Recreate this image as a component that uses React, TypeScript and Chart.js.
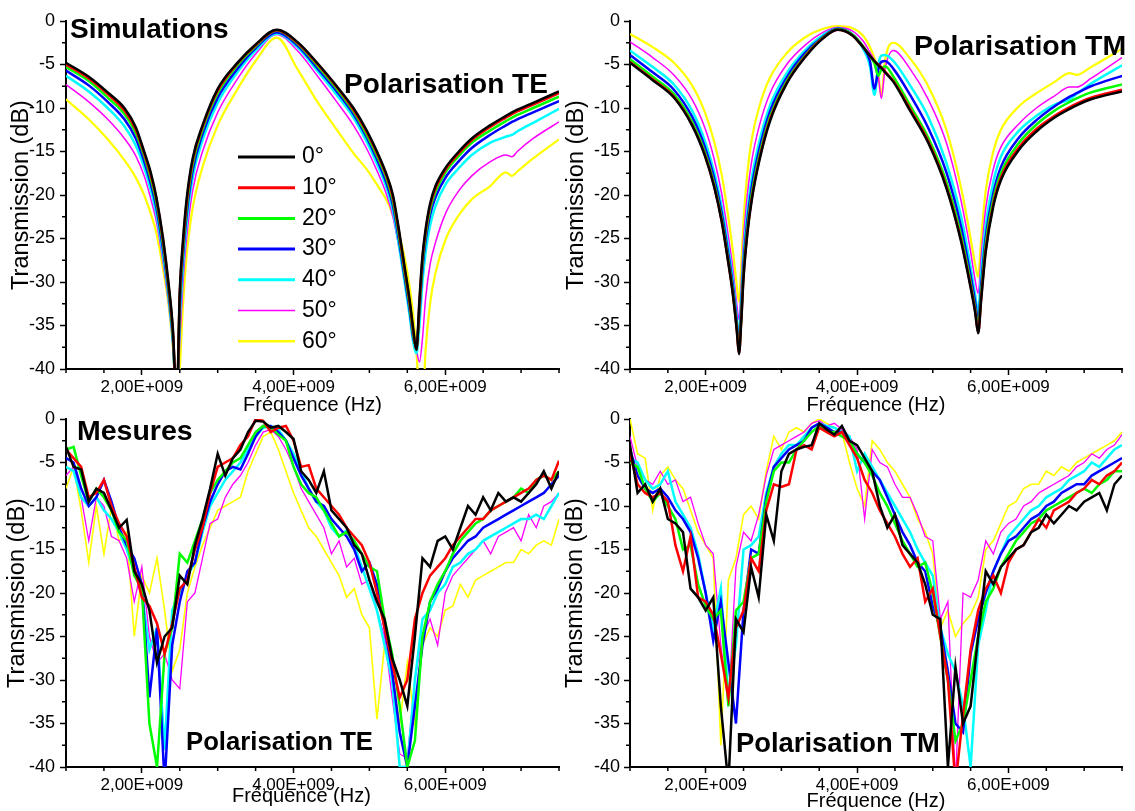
import React, { useEffect, useRef } from 'react';
import { Chart, registerables } from 'chart.js';

Chart.register(...registerables);

const FONT = "'Liberation Sans', Arial, Helvetica, sans-serif";

const ANGLE_LABELS = ['0°', '10°', '20°', '30°', '40°', '50°', '60°'];
const SERIES_COLORS = ['#000000', '#ff0000', '#00ff00', '#0000ff', '#00ffff', '#ff00ff', '#ffff00'];
const SIM_WIDTHS = [2.5, 2.5, 2.5, 2.5, 2.5, 1.5, 2.2];
const MEAS_WIDTHS = [2.5, 2.5, 2.5, 2.5, 2.5, 1.3, 1.6];
const LEGEND_WIDTHS = [3, 3, 3, 3, 3, 1.5, 2.5];

const X_MIN = 1.0;
const X_MAX = 7.5;
const Y_MIN = -40;
const Y_MAX = 0;

// ---------- Simulations, polarisation TE (frequency in GHz, transmission in dB)
const SIM_TE_FREQ = [
  1.0, 1.3, 1.55, 1.77, 1.92, 2.03, 2.12, 2.19, 2.28, 2.35,
  2.41, 2.46, 2.50, 2.54, 2.59, 2.67, 2.80, 3.00, 3.25, 3.50,
  3.78, 4.05, 4.33, 4.57, 4.79, 4.96, 5.10, 5.22, 5.31, 5.39,
  5.46, 5.53, 5.58, 5.62, 5.66, 5.70, 5.74, 5.80, 5.87, 6.01,
  6.18, 6.35, 6.59, 6.80, 6.88, 6.95, 7.16, 7.50,
];
const SIM_TE_0 = [
  -4.8, -6.4, -8.2, -10.0, -12.2, -15.0, -17.5, -20.2, -25.0, -30.0,
  -35.5, -44, -31, -25.5, -20.5, -15.8, -12.0, -7.8, -4.9, -2.7,
  -1.0, -2.4, -5.0, -7.5, -10.0, -12.5, -15.0, -17.5, -20.0, -24,
  -28, -32, -35.5, -37.8, -32, -27, -24, -21, -19, -16.8,
  -15.0, -13.5, -12.0, -10.9, -10.5, -10.2, -9.4, -8.1,
];
const SIM_TE_10 = [
  -5.0, -6.6, -8.4, -10.3, -12.5, -15.2, -17.8, -20.4, -25.3, -30.3,
  -35.8, -44, -31.5, -26, -21, -16.1, -12.2, -8.0, -5.0, -2.8,
  -1.05, -2.5, -5.1, -7.6, -10.2, -12.7, -15.2, -17.7, -20.3, -24.3,
  -28.3, -32.3, -35.8, -37.8, -32.5, -27.3, -24.3, -21.3, -19.3, -17.0,
  -15.2, -13.7, -12.2, -11.1, -10.7, -10.4, -9.6, -8.3,
];
const SIM_TE_20 = [
  -5.3, -6.9, -8.8, -10.7, -12.9, -15.5, -18.2, -20.8, -25.7, -30.6,
  -36.2, -44, -32, -26.5, -21.5, -16.5, -12.5, -8.3, -5.2, -2.9,
  -1.1, -2.6, -5.3, -7.8, -10.4, -13.0, -15.5, -18.0, -20.7, -24.7,
  -28.7, -32.7, -36.2, -37.6, -33, -27.8, -24.7, -21.7, -19.7, -17.3,
  -15.5, -14.0, -12.6, -11.5, -11.1, -10.8, -10.0, -8.7,
];
const SIM_TE_30 = [
  -5.7, -7.4, -9.3, -11.3, -13.5, -16.1, -18.8, -21.4, -26.3, -31.0,
  -36.5, -44, -33, -27.3, -22.3, -17.2, -13.0, -8.8, -5.6, -3.1,
  -1.3, -2.8, -5.6, -8.1, -10.7, -13.3, -15.9, -18.5, -21.2, -25.2,
  -29.2, -33.2, -36.5, -37.2, -33.5, -28.5, -25.3, -22.3, -20.3, -17.9,
  -16.1, -14.6, -13.1, -12.0, -11.6, -11.3, -10.5, -9.2,
];
const SIM_TE_40 = [
  -6.3, -8.1, -10.0, -12.1, -14.3, -16.8, -19.5, -22.1, -27.0, -31.6,
  -37, -44, -34.5, -28.5, -23.3, -18, -13.7, -9.4, -6.0, -3.4,
  -1.45, -3.0, -5.9, -8.5, -11.1, -13.8, -16.4, -19, -21.8, -25.8,
  -29.7, -33.8, -37, -38.2, -35, -30, -26.7, -23.5, -21.3, -18.7,
  -16.9, -15.4, -14.0, -13.3, -13.1, -12.7, -11.7, -10.1,
];
const SIM_TE_50 = [
  -7.3, -9.3, -11.3, -13.5, -15.5, -17.8, -20.5, -23, -27.8, -32.3,
  -37.5, -44, -37, -30.5, -25, -19.5, -15, -10.5, -6.8, -3.8,
  -1.55, -3.4, -6.5, -9.3, -12.0, -14.6, -17.2, -19.8, -22.5, -26,
  -29.5, -33, -35.8, -37.8, -39.2, -36.5, -32, -28, -25.5, -22,
  -19.5, -17.8, -16.2, -15.4, -15.6, -15.0, -13.5, -11.6,
];
const SIM_TE_60 = [
  -9.0, -11.3, -13.6, -16.0, -18.0, -20.0, -22.2, -24.3, -28.5, -32.5,
  -37.5, -44, -40, -33, -27, -21.5, -16.8, -12.0, -8.0, -4.6,
  -1.9, -5.5, -9.5, -12.5, -15.2, -17.0, -18.8, -20.5, -22.3, -24.5,
  -27, -30.5, -34, -38, -43, -45, -38, -32.5, -29, -25,
  -22.3, -20.5, -19.0, -17.4, -17.8, -17.3, -15.8, -13.6,
];

// ---------- Simulations, polarisation TM
const SIM_TM_FREQ = [
  1.0, 1.3, 1.58, 1.82, 1.99, 2.11, 2.21, 2.29, 2.36, 2.41,
  2.44, 2.47, 2.50, 2.55, 2.61, 2.71, 2.85, 3.07, 3.31, 3.55,
  3.74, 3.93, 4.08, 4.17, 4.23, 4.28, 4.32, 4.37, 4.48, 4.70,
  4.94, 5.18, 5.37, 5.49, 5.56, 5.60, 5.64, 5.70, 5.80, 5.90,
  6.14, 6.37, 6.61, 6.81, 6.90, 7.09, 7.50,
];
const SIM_TM_0 = [
  -4.8, -6.8, -8.8, -12.0, -15.5, -19.0, -23.0, -27.3, -31.5, -35.5,
  -38.3, -34.5, -29.5, -24.5, -20.5, -16.0, -11.5, -7.2, -4.2, -2.0,
  -1.0, -1.6, -3.0, -4.0, -4.6, -5.1, -5.4, -5.9, -7.0, -10.3,
  -14.0, -19.2, -25.2, -30.2, -33.5, -35.9, -32, -26.5, -21.3, -18.3,
  -14.8, -12.7, -11.1, -10.1, -9.7, -9.0, -8.1,
];
const SIM_TM_10 = [
  -4.7, -6.7, -8.7, -11.9, -15.4, -18.9, -22.9, -27.2, -31.4, -35.4,
  -38.2, -34.3, -29.3, -24.3, -20.3, -15.8, -11.3, -7.1, -4.1, -1.95,
  -1.0, -1.6, -3.0, -4.0, -4.6, -5.0, -5.3, -5.8, -6.9, -10.1,
  -13.8, -19.0, -25.0, -30.0, -33.3, -35.8, -31.8, -26.2, -21.0, -18.0,
  -14.5, -12.4, -10.9, -9.9, -9.5, -8.8, -7.9,
];
const SIM_TM_20 = [
  -4.4, -6.4, -8.4, -11.6, -15.1, -18.6, -22.6, -26.9, -31.1, -35.1,
  -37.8, -33.8, -28.8, -23.8, -19.8, -15.4, -11.0, -6.9, -4.0, -1.9,
  -0.95, -1.5, -2.9, -4.0, -4.9, -6.3, -5.6, -5.2, -6.4, -9.7,
  -13.4, -18.5, -24.5, -29.6, -33.0, -35.2, -31.2, -25.6, -20.5, -17.5,
  -14.0, -11.9, -10.3, -9.3, -8.9, -8.2, -7.3,
];
const SIM_TM_30 = [
  -3.9, -5.9, -7.9, -11.0, -14.5, -18.0, -22.0, -26.3, -30.5, -34.6,
  -37.2, -33, -28, -23, -19, -14.7, -10.4, -6.5, -3.7, -1.8,
  -0.9, -1.5, -3.0, -4.6, -7.8, -5.6, -4.7, -4.6, -5.5, -8.5,
  -12.3, -17.4, -23.5, -28.8, -32.3, -34.5, -30.3, -24.8, -19.8, -16.8,
  -13.4, -11.4, -9.8, -8.7, -8.3, -7.5, -6.3,
];
const SIM_TM_40 = [
  -3.4, -5.3, -7.3, -10.3, -13.8, -17.3, -21.3, -25.6, -29.8, -34.0,
  -36.3, -32, -27, -22, -18, -13.8, -9.7, -6.0, -3.4, -1.6,
  -0.85, -1.5, -3.2, -5.2, -8.5, -5.0, -4.0, -3.9, -4.6, -7.4,
  -11.0, -16.3, -22.3, -27.8, -31.5, -33.5, -29, -23.5, -18.5, -15.6,
  -12.6, -10.9, -9.6, -9.0, -8.4, -7.2, -5.1,
];
const SIM_TM_50 = [
  -2.4, -4.2, -6.2, -9.0, -12.3, -15.8, -19.8, -24.2, -28.5, -32.5,
  -34.3, -30, -25, -20, -16, -12, -8.3, -5.0, -2.8, -1.3,
  -0.75, -1.1, -2.3, -3.6, -4.6, -6.3, -8.9, -5.5, -3.4, -5.5,
  -9.0, -14.0, -20.5, -26.0, -29.8, -31.3, -27, -21.5, -17.0, -14.5,
  -11.8, -10.0, -8.6, -7.6, -7.6, -6.6, -4.2,
];
const SIM_TM_60 = [
  -1.5, -3.0, -4.8, -7.4, -10.5, -13.8, -17.6, -22.0, -26.5, -30.3,
  -32.3, -28, -23, -17.5, -13.5, -9.8, -6.5, -3.7, -1.9, -0.9,
  -0.6, -0.8, -1.7, -3.0, -4.3, -6.0, -8.7, -4.5, -2.5, -4.3,
  -7.5, -12.5, -19.0, -24.5, -28.0, -29.4, -25, -19.5, -15.0, -12.5,
  -9.8, -8.3, -7.0, -6.0, -6.2, -5.3, -3.2,
];

// ---------- Measurements (shared frequency grid, GHz)
const MEAS_FREQ = [
  1.0, 1.1, 1.2, 1.3, 1.4, 1.5, 1.6, 1.7, 1.8, 1.9,
  2.0, 2.1, 2.2, 2.3, 2.4, 2.5, 2.6, 2.7, 2.8, 2.9,
  3.0, 3.1, 3.2, 3.3, 3.4, 3.5, 3.6, 3.7, 3.8, 3.9,
  4.0, 4.1, 4.2, 4.3, 4.4, 4.5, 4.6, 4.7, 4.8, 4.9,
  5.0, 5.1, 5.2, 5.3, 5.4, 5.5, 5.6, 5.7, 5.8, 5.9,
  6.0, 6.1, 6.2, 6.3, 6.4, 6.5, 6.6, 6.7, 6.8, 6.9,
  7.0, 7.1, 7.2, 7.3, 7.4, 7.5,
];

// Measurements, polarisation TE
const MEAS_TE_0 = [
  -3.2, -5.5, -5.8, -9.5, -8.0, -8.5, -10.5, -12.5, -11.6, -17.5,
  -19, -22, -28, -25, -24, -18, -19, -14.5, -11.5, -8,
  -4.0, -6.5, -4.5, -3.5, -1.5, -0.2, -0.3, -1.0, -0.8, -1.5,
  -2.3, -6.0, -7.0, -8.5, -6.0, -10.5, -11.5, -12.5, -14.5, -15.5,
  -18.5, -21, -23, -27.5, -30, -33, -25, -16, -17, -14,
  -13.5, -15, -12.5, -10, -11, -9, -10.5, -8.5, -9.5, -9,
  -9.5, -8.5, -7.5, -6.0, -8.0, -6.0,
];
const MEAS_TE_10 = [
  -3.5, -4.5, -5.5, -9.0, -8.5, -7.0, -10.0, -12.0, -13.5, -17.0,
  -20.5, -21.5, -23.5, -27, -23.5, -19.5, -18.5, -15, -12.5, -8.5,
  -5.5, -5.0, -4.5, -3.0, -2.0, 0.0, -0.2, -1.5, -1.0, -0.8,
  -2.5, -5.5, -5.3, -8.0, -9.0, -10.0, -11.0, -12.5, -13.5, -14.5,
  -16.5, -20, -24, -28, -32, -30, -23, -20, -18, -17,
  -16, -14.5, -13.5, -12.5, -11.5, -11.5, -10.5, -10.0, -9.5, -9.0,
  -8.5, -8.0, -7.0, -6.5, -7.0, -4.8,
];
const MEAS_TE_20 = [
  -3.5, -3.2, -6.5, -9.5, -8.0, -9.0, -10.5, -13.0, -14.0, -18.0,
  -19.5, -35, -40, -27, -24, -15.5, -16.5, -14, -11.5, -8.5,
  -7.0, -6.0, -5.0, -4.5, -3.0, -1.5, -0.8, -1.0, -1.8, -2.5,
  -5.5, -7.5, -8.5, -9.0, -10.5, -12, -13.5, -13.0, -14, -15.5,
  -17, -17.5, -23, -27, -33, -40, -37, -25, -21, -19,
  -17.5, -15.5, -14, -13, -12, -11.5, -10.5, -10, -9.5, -9,
  -8, -8.5, -7.0, -6.5, -7.0, -6.0,
];
const MEAS_TE_30 = [
  -4.5, -5.0, -8.0, -10.0, -9.0, -7.0, -9.5, -12.5, -14.5, -16.0,
  -19.0, -32, -24, -42, -26, -21, -17.5, -16.5, -12.5, -9.5,
  -7.5, -6.0, -5.5, -5.8, -4.0, -2.0, -0.8, -0.8, -1.5, -2.5,
  -4.5, -6.5, -8.0, -9.5, -10.0, -11.5, -12.5, -13.5, -15.0, -17.5,
  -16.5, -19, -24, -29, -36, -40, -33, -26, -21, -19.5,
  -17.5, -16, -15, -14, -13.5, -12.5, -12.0, -11.5, -11, -10.5,
  -10, -9.5, -9.0, -8.5, -7.5, -6.5,
];
const MEAS_TE_40 = [
  -5.5, -6.0, -9.0, -10.0, -9.0, -10.5, -11.5, -13.0, -15.0, -17.5,
  -20.0, -26.5, -24.0, -38, -22, -20, -18, -16.5, -13, -10,
  -8.5, -7.0, -6.0, -5.0, -3.5, -2.0, -1.0, -0.8, -1.2, -2.5,
  -4.0, -6.0, -8.0, -9.5, -10.5, -12.5, -13.5, -12.8, -14.5, -17.0,
  -19.5, -22, -26, -30, -40, -40, -30, -23, -22, -20,
  -19, -17, -16.5, -15.5, -15, -14, -13.5, -13, -12.5, -12,
  -11.5, -11.5, -11, -11.5, -10, -8.5,
];
const MEAS_TE_50 = [
  -6.5, -5.5, -9.0, -14.0, -9.0, -10.0, -13.5, -14.0, -16.0, -21.0,
  -17.0, -25, -28, -27, -30, -31, -21, -20, -16, -12,
  -11.5, -9.0, -7.5, -6.5, -5.0, -3.0, -1.5, -1.2, -2.0, -3.5,
  -5.5, -8.0, -9.5, -11.0, -12.5, -15.5, -14.0, -17.0, -16.0, -19.0,
  -18.5, -22, -25, -32, -38.5, -39, -30, -25, -23, -26,
  -20, -18, -17, -16, -15, -14, -15.5, -13.5, -13, -12.5,
  -14, -11, -12.5, -10, -9.5, -8.5,
];
const MEAS_TE_60 = [
  -8.0, -5.5, -10.5, -16.5, -10.0, -15.5, -10.0, -14.0, -13.0, -25.0,
  -18.0, -20.0, -16.0, -22.0, -29.0, -26.5, -20.0, -17.0, -14.5, -12.5,
  -10.5, -10.0, -9.5, -9.0, -6.0, -4.0, -2.0, -1.5, -3.5, -6.0,
  -8.5, -10.5, -12.5, -13.5, -15.0, -16.5, -18.0, -20.5, -19.5, -22.5,
  -24.0, -34.5, -26.0, -29.0, -35.0, -28.0, -35.0, -26.0, -24.0, -25.0,
  -22.0, -21.5, -19.0, -20.5, -18.5, -18.0, -17.5, -17.0, -16.5, -16.5,
  -15.0, -15.5, -14.5, -14.0, -14.5, -11.5,
];

// Measurements, polarisation TM
const MEAS_TM_0 = [
  -3.0, -8.5, -7.5, -9.5, -8.0, -11.5, -12.0, -13.0, -19.5, -20.5,
  -22, -20.5, -33, -42, -23, -24.5, -17, -20.5, -11, -14,
  -6, -4.0, -3.5, -3.2, -3.0, -0.5, -1.2, -1.8, -0.8, -2.5,
  -3.0, -4.5, -6.0, -10.0, -12.5, -11.0, -14.5, -15.5, -16.5, -19.0,
  -22.5, -23.0, -40, -28.5, -35, -33, -25, -17.5, -19.0, -17.0,
  -16.0, -15.0, -14.5, -13.0, -12.5, -11.0, -12.0, -11.0, -10.0, -10.5,
  -9.5, -9.0, -8.5, -10.5, -7.5, -6.5,
];
const MEAS_TM_10 = [
  -4.0, -7.5, -8.5, -9.0, -8.5, -9.5, -14.5, -17.5, -13.5, -20.5,
  -21, -22.5, -27, -32, -24, -22, -16, -17.5, -10.5, -7.5,
  -7.8, -7.5, -3.5, -3.0, -3.5, -1.0, -1.5, -2.0, -1.5, -3.0,
  -4.5, -7.0, -8.5, -10.5, -12.0, -13.5, -15.5, -17.0, -16.0, -21,
  -19.5, -25, -30, -42, -34, -26.5, -22, -19.5, -18.0, -20.0,
  -16.5, -15.0, -14.5, -13.0, -11.5, -12.5, -10.5, -10.0, -9.5, -8.5,
  -8.0, -7.0, -7.5, -6.5, -6.0, -5.0,
];
const MEAS_TM_20 = [
  -5.0, -5.5, -8.0, -9.5, -8.5, -10, -11.5, -15.0, -14.5, -19,
  -21.5, -23, -22, -33, -22, -21, -16, -15.5, -9.5, -6.0,
  -5.0, -5.0, -3.5, -2.5, -1.5, -0.8, -1.5, -1.5, -2.0, -2.5,
  -4.0, -5.0, -6.5, -8.5, -10.0, -12.0, -14.0, -15.5, -17.0, -16.5,
  -20, -25, -30, -37, -35, -30, -25, -21, -19.5, -17,
  -15.5, -14, -13, -12, -11.5, -10.5, -10, -9.5, -9.0, -8.5,
  -8.0, -8.5, -7.5, -7.0, -6.0, -6.0,
];
const MEAS_TM_30 = [
  -3.5, -6.5, -8.0, -8.5, -8.0, -9.0, -10.5, -11.5, -13.0, -16,
  -20, -25.5, -21, -28, -35, -22, -15, -15.5, -9, -5.5,
  -4.5, -3.5, -3.0, -2.5, -1.0, -0.5, -1.0, -1.5, -1.5, -2.5,
  -4.0, -5.0, -6.0, -7.0, -9.0, -11.0, -13.0, -14.5, -16.5, -17.5,
  -21.5, -24, -29, -35, -36, -27, -23, -20, -17.5, -15.5,
  -14.0, -13.5, -12.5, -11.5, -11.0, -10.0, -9.5, -8.5, -8.0, -7.5,
  -7.5, -6.5, -6.0, -5.5, -5.0, -4.5,
];
const MEAS_TM_40 = [
  -4.5, -5.0, -7.0, -8.0, -7.5, -6.0, -9.5, -11, -12.5, -15.5,
  -20, -24, -19.5, -32, -26, -15, -14.5, -13.5, -8.5, -5.5,
  -4.0, -3.0, -3.0, -2.0, -1.0, -0.5, -0.8, -1.0, -1.5, -2.0,
  -6.0, -4.0, -5.5, -7.0, -8.5, -10, -11.5, -13, -15, -16.5,
  -18, -24, -27, -29, -33, -40, -26, -22, -17.5, -15.5,
  -13.5, -12.5, -11.5, -10.5, -10, -9.0, -8.5, -8.0, -7.0, -6.5,
  -6.0, -5.0, -5.5, -4.5, -3.5, -3.0,
];
const MEAS_TM_50 = [
  -2.0, -5.5, -7.0, -7.5, -6.0, -7.5, -7.0, -9.5, -9.0, -12,
  -14.5, -15.5, -26, -33, -17, -13, -14, -11, -6.5, -3.5,
  -3.0, -2.5, -2.0, -1.5, -0.5, -0.2, -0.8, -0.5, -1.2, -2.0,
  -3.5, -11.5, -3.5, -5.0, -5.5, -7.5, -9.0, -9.0, -11, -13.5,
  -14, -23, -21, -42, -20, -20.5, -18.5, -14, -15.5, -13,
  -12, -11.5, -10, -9.5, -8.5, -8.0, -7.5, -7.0, -6.5, -5.5,
  -5.0, -4.0, -4.5, -3.5, -3.0, -1.8,
];
const MEAS_TM_60 = [
  0.0, -4.0, -4.5, -10.5, -6.5, -5.5, -7.0, -8.0, -10.5, -13,
  -14.5, -16, -37.5, -18.5, -16, -11, -10, -11.5, -6, -2,
  -3.5, -1.5, -1.0, -1.5, -0.5, 0.0, -0.5, -1.0, -1.5, -5.0,
  -8.0, -10, -2.5, -3.5, -5.0, -6.0, -7.5, -9.0, -11.5, -13.0,
  -15.5, -24, -22, -25, -23.5, -22.5, -20.5, -15, -14, -12,
  -10, -9.5, -8.0, -7.5, -7.5, -6.0, -6.5, -5.5, -6.0, -5.0,
  -4.5, -4.0, -3.5, -3.0, -2.5, -1.5,
];

type Annotation = { text: string; x: number; y: number; size: number };

type Panel = {
  left: number;
  top: number;
  w: number;
  h: number;
  pad: { left: number; right: number; top: number; bottom: number };
  yWidth: number;
  xHeight: number;
  yTitlePad: number;
  yTickPad: number;
  xTitlePadBottom: number;
  xTitle: string;
  freq: number[];
  series: number[][];
  widths: number[];
  smooth: boolean;
  legend: boolean;
  notes: Annotation[];
};

const PANELS: Panel[] = [
  {
    left: 0, top: 0, w: 567, h: 418,
    pad: { left: 0, right: 8, top: 21, bottom: 0 },
    yWidth: 66, xHeight: 49, yTitlePad: 7, yTickPad: 5, xTitlePadBottom: 1,
    xTitle: 'Fréquence (Hz)',
    freq: SIM_TE_FREQ,
    series: [SIM_TE_0, SIM_TE_10, SIM_TE_20, SIM_TE_30, SIM_TE_40, SIM_TE_50, SIM_TE_60],
    widths: SIM_WIDTHS, smooth: true, legend: true,
    notes: [
      { text: 'Simulations', x: 70, y: 38, size: 28 },
      { text: 'Polarisation TE', x: 344, y: 93, size: 28 },
    ],
  },
  {
    left: 560, top: 0, w: 575, h: 418,
    pad: { left: 0, right: 13, top: 21, bottom: 0 },
    yWidth: 70, xHeight: 49, yTitlePad: 2, yTickPad: 4, xTitlePadBottom: 1,
    xTitle: 'Fréquence (Hz)',
    freq: SIM_TM_FREQ,
    series: [SIM_TM_0, SIM_TM_10, SIM_TM_20, SIM_TM_30, SIM_TM_40, SIM_TM_50, SIM_TM_60],
    widths: SIM_WIDTHS, smooth: true, legend: false,
    notes: [{ text: 'Polarisation TM', x: 914, y: 55, size: 28.5 }],
  },
  {
    left: 0, top: 400, w: 567, h: 411,
    pad: { left: 0, right: 8, top: 19, bottom: 0 },
    yWidth: 66, xHeight: 44, yTitlePad: 3, yTickPad: 5, xTitlePadBottom: 3,
    xTitle: 'Fréquence (Hz)    ',
    freq: MEAS_FREQ,
    series: [MEAS_TE_0, MEAS_TE_10, MEAS_TE_20, MEAS_TE_30, MEAS_TE_40, MEAS_TE_50, MEAS_TE_60],
    widths: MEAS_WIDTHS, smooth: false, legend: false,
    notes: [
      { text: 'Mesures', x: 77, y: 440, size: 28.5 },
      { text: 'Polarisation TE', x: 186, y: 750, size: 25.7 },
    ],
  },
  {
    left: 560, top: 400, w: 575, h: 411,
    pad: { left: 0, right: 13, top: 19, bottom: 0 },
    yWidth: 70, xHeight: 44, yTitlePad: 1, yTickPad: 4, xTitlePadBottom: -2,
    xTitle: 'Fréquence (Hz)',
    freq: MEAS_FREQ,
    series: [MEAS_TM_0, MEAS_TM_10, MEAS_TM_20, MEAS_TM_30, MEAS_TM_40, MEAS_TM_50, MEAS_TM_60],
    widths: MEAS_WIDTHS, smooth: false, legend: false,
    notes: [{ text: 'Polarisation TM', x: 736, y: 752, size: 27.4 }],
  },
];

const isMajorX = (v: number) => Math.abs(v / 2 - Math.round(v / 2)) < 1e-6;
const isMajorY = (v: number) => Math.abs(v / 5 - Math.round(v / 5)) < 1e-6;

const minorTicksPlugin = {
  id: 'minorTicks',
  afterDraw(chart: any) {
    const { ctx, chartArea } = chart;
    const xs = chart.scales.x;
    const ys = chart.scales.y;
    ctx.save();
    ctx.strokeStyle = '#000';
    ctx.lineWidth = 1.5;
    ctx.beginPath();
    xs.ticks.forEach((t: any) => {
      if (!isMajorX(t.value)) {
        const px = xs.getPixelForValue(t.value);
        ctx.moveTo(px, chartArea.bottom);
        ctx.lineTo(px, chartArea.bottom + 4);
      }
    });
    ys.ticks.forEach((t: any) => {
      if (!isMajorY(t.value)) {
        const py = ys.getPixelForValue(t.value);
        ctx.moveTo(chartArea.left, py);
        ctx.lineTo(chartArea.left - 4, py);
      }
    });
    ctx.stroke();
    ctx.restore();
  },
};

function makeNotesPlugin(panel: Panel) {
  return {
    id: 'panelNotes',
    afterDraw(chart: any) {
      const ctx = chart.ctx;
      ctx.save();
      if (panel.legend) {
        chart.data.datasets.forEach((ds: any, i: number) => {
          const y = 157 + i * 30.7 - panel.top;
          ctx.strokeStyle = ds.borderColor;
          ctx.lineWidth = LEGEND_WIDTHS[i];
          ctx.beginPath();
          ctx.moveTo(238 - panel.left, y);
          ctx.lineTo(295 - panel.left, y);
          ctx.stroke();
          ctx.fillStyle = '#000';
          ctx.font = `23px ${FONT}`;
          ctx.textAlign = 'left';
          ctx.textBaseline = 'middle';
          ctx.fillText(ds.label, 302 - panel.left, y);
        });
      }
      ctx.fillStyle = '#000';
      ctx.textAlign = 'left';
      ctx.textBaseline = 'alphabetic';
      panel.notes.forEach((n) => {
        ctx.font = `bold ${n.size}px ${FONT}`;
        ctx.fillText(n.text, n.x - panel.left, n.y - panel.top);
      });
      ctx.restore();
    },
  };
}

function buildConfig(panel: Panel): any {
  const datasets = panel.series.map((vals, i) => ({
    label: ANGLE_LABELS[i],
    data: panel.freq.map((f, j) => ({ x: f, y: vals[j] })),
    borderColor: SERIES_COLORS[i],
    backgroundColor: SERIES_COLORS[i],
    borderWidth: panel.widths[i],
    pointRadius: 0,
    fill: false,
    tension: 0,
    cubicInterpolationMode: panel.smooth ? 'monotone' : 'default',
  }));
  return {
    type: 'line',
    data: { datasets },
    options: {
      animation: false,
      responsive: false,
      devicePixelRatio: 1,
      events: [],
      layout: { padding: panel.pad },
      plugins: { legend: { display: false }, tooltip: { enabled: false } },
      scales: {
        x: {
          type: 'linear',
          min: X_MIN,
          max: X_MAX,
          afterFit: (s: any) => { s.height = panel.xHeight; },
          ticks: {
            stepSize: 0.5,
            autoSkip: false,
            maxRotation: 0,
            minRotation: 0,
            padding: 2,
            color: '#000',
            font: { family: FONT, size: 17 },
            callback: (v: number) => (isMajorX(v) ? v.toFixed(2).replace('.', ',') + 'E+009' : ''),
          },
          grid: {
            drawOnChartArea: false,
            drawTicks: true,
            tickLength: 6,
            tickWidth: 1.5,
            tickColor: (c: any) => (c.tick && isMajorX(c.tick.value) ? '#000' : 'rgba(0,0,0,0)'),
          },
          border: { display: true, color: '#000', width: 2 },
          title: {
            display: true,
            text: panel.xTitle,
            color: '#000',
            font: { family: FONT, size: 20 },
            padding: { top: 0, bottom: panel.xTitlePadBottom },
          },
        },
        y: {
          type: 'linear',
          min: Y_MIN,
          max: Y_MAX,
          afterFit: (s: any) => { s.width = panel.yWidth; },
          ticks: {
            stepSize: 2.5,
            autoSkip: false,
            padding: panel.yTickPad,
            color: '#000',
            font: { family: FONT, size: 18 },
            callback: (v: number) => (isMajorY(v) ? String(v) : ''),
          },
          grid: {
            drawOnChartArea: false,
            drawTicks: true,
            tickLength: 6,
            tickWidth: 1.5,
            tickColor: (c: any) => (c.tick && isMajorY(c.tick.value) ? '#000' : 'rgba(0,0,0,0)'),
          },
          border: { display: true, color: '#000', width: 2 },
          title: {
            display: true,
            text: 'Transmission (dB)',
            color: '#000',
            font: { family: FONT, size: 23.5 },
            padding: { top: panel.yTitlePad, bottom: 0 },
          },
        },
      },
    },
    plugins: [minorTicksPlugin, makeNotesPlugin(panel)],
  };
}

export default function App() {
  const canvases = useRef<(HTMLCanvasElement | null)[]>([]);

  useEffect(() => {
    const charts = PANELS.map((p, i) => new Chart(canvases.current[i] as HTMLCanvasElement, buildConfig(p)));
    return () => {
      charts.forEach((c) => c.destroy());
    };
  }, []);

  return (
    <div
      style={{
        position: 'absolute',
        left: 0,
        top: 0,
        width: 1135,
        height: 811,
        overflow: 'hidden',
        background: '#ffffff',
      }}
    >
      {PANELS.map((p, i) => (
        <canvas
          key={i}
          ref={(el) => { canvases.current[i] = el; }}
          width={p.w}
          height={p.h}
          style={{ position: 'absolute', left: p.left, top: p.top, width: p.w, height: p.h }}
        />
      ))}
    </div>
  );
}
